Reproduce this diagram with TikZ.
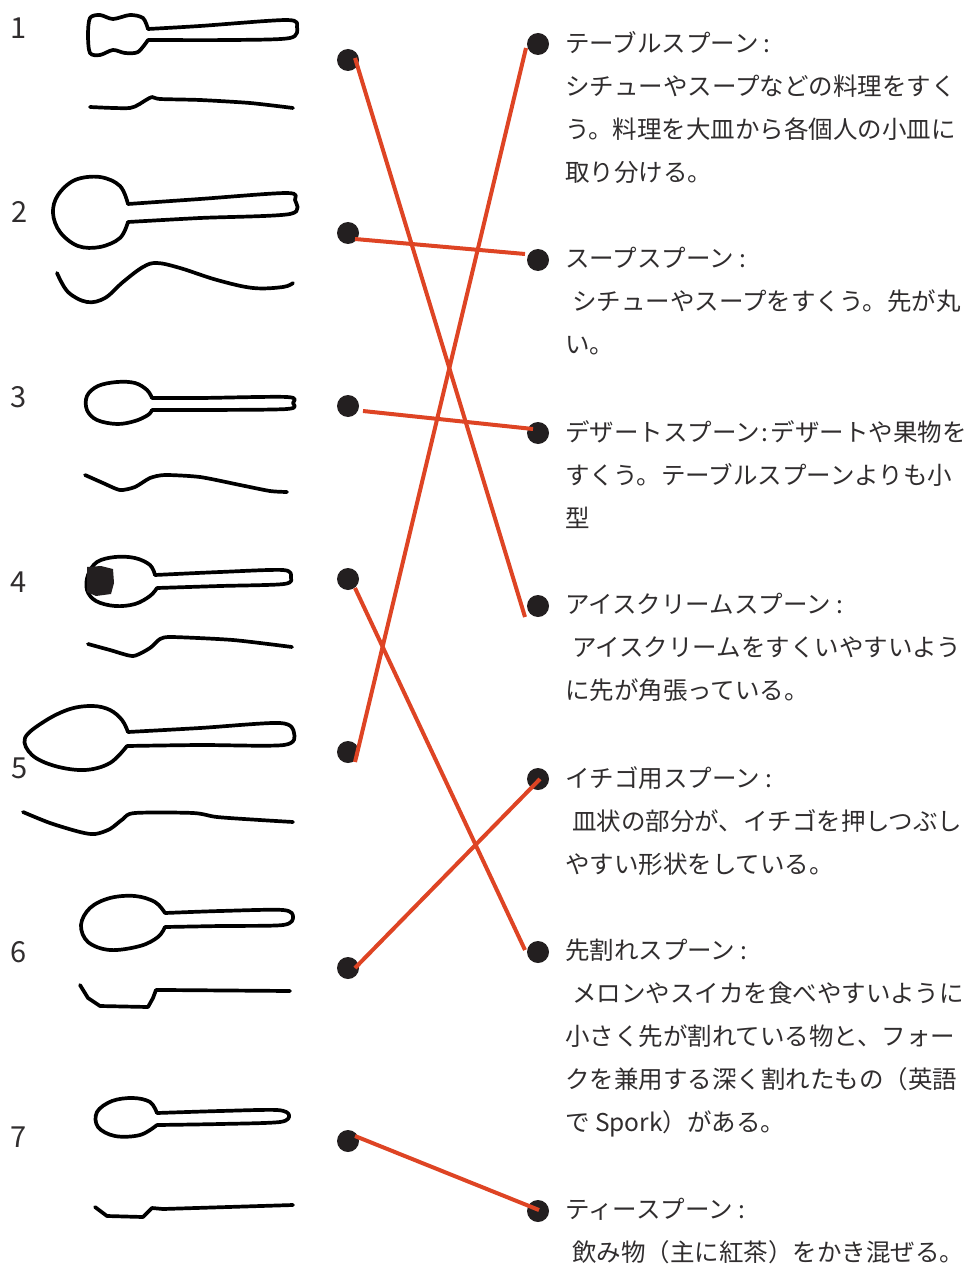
\documentclass[tikz,border=0pt]{standalone}
\usepackage{fontspec}
\setmainfont{Noto Sans CJK JP}
\usetikzlibrary{positioning}
\definecolor{linkred}{RGB}{222,68,36}
\definecolor{dotblack}{RGB}{35,31,32}
\definecolor{inkgray}{RGB}{48,45,46}
\tikzstyle{dot}=[circle,fill=dotblack,inner sep=0pt,minimum size=22pt]
\tikzstyle{link}=[draw=linkred,line width=4pt]
\tikzstyle{sketch}=[line width=3.7pt,line cap=round,line join=round]
\tikzstyle{num}=[text=inkgray,font=\fontsize{29}{30}\selectfont,inner sep=0pt]
\tikzstyle{desc}=[anchor=north west,align=left,inner sep=0pt,text=inkgray,
  font=\fontsize{24.5}{43}\selectfont,execute at begin node=\rule{0pt}{22pt}]
\newcommand\ind{\hspace*{7pt}}

\begin{document}
\begin{tikzpicture}[x=1pt,y=-1pt]
\useasboundingbox (0,0) rectangle (972,1265);

% numbers
\node[num] (n1) at (19,28) {1};
\node[num] (n2) at (20,212) {2};
\node[num] (n3) at (19,397) {3};
\node[num] (n4) at (19,582) {4};
\node[num] (n5) at (20,768) {5};
\node[num] (n6) at (19,952) {6};
\node[num] (n7) at (19,1137) {7};

% spoon sketches: top view, then side view
% 1
\draw[sketch] plot[smooth,tension=.5] coordinates {(148,29)(143,18)(130,15)(113,19)(100,15)(90,18)(88,35)(90,53)(100,55)(113,50)(125,53)(138,52)(148,40)};
\draw[sketch] plot[smooth,tension=.5] coordinates {(148,29)(200,26)(287,20)(297,27)(290,38)(233,40)(148,40)};
\draw[sketch] plot[smooth,tension=.4] coordinates {(90,107)(130,108)(146,100)(152,97)(160,99)(200,100)(250,103)(293,108)};
% 2
\draw[sketch] plot[smooth,tension=.6] coordinates {(128,204)(120,186)(100,177)(75,180)(58,195)(53,213)(60,232)(78,246)(100,247)(120,238)(128,222)};
\draw[sketch] plot[smooth,tension=.5] coordinates {(128,204)(200,199)(287,193)(295,200)(290,214)(200,218)(128,222)};
\draw[sketch] plot[smooth,tension=.6] coordinates {(57,273)(68,292)(87,302)(105,298)(123,282)(143,267)(157,263)(180,268)(217,280)(253,288)(283,287)(293,283)};
% 3
\draw[sketch] plot[smooth,tension=.6] coordinates {(152,398)(147,390)(135,383)(117,382)(98,386)(87,396)(87,410)(97,420)(117,424)(135,421)(148,415)(152,410)};
\draw[sketch] plot[smooth,tension=.5] coordinates {(152,398)(200,398)(287,397)(293,403)(287,409)(200,410)(152,410)};
\draw[sketch] plot[smooth,tension=.4] coordinates {(85,475)(103,483)(120,490)(135,487)(150,478)(165,475)(200,477)(240,485)(270,491)(287,492)};
% 4
\draw[sketch] plot[smooth,tension=.6] coordinates {(155,575)(150,565)(135,558)(115,557)(97,562)(88,575)(87,590)(96,601)(115,606)(135,604)(150,596)(157,588)};
\fill[dotblack] (87,567) -- (101,566) -- (113,569) -- (114,583) -- (111,594) -- (96,596) -- (87,592) -- cycle;
\draw[sketch] plot[smooth,tension=.5] coordinates {(155,575)(220,572)(283,570)(291,577)(284,584)(220,586)(157,588)};
\draw[sketch] plot[smooth,tension=.4] coordinates {(88,644)(110,650)(133,656)(150,648)(160,639)(172,637)(233,640)(292,647)};
% 5
\draw[sketch] plot[smooth,tension=.6] coordinates {(128,732)(122,720)(110,710)(93,706)(70,709)(45,721)(25,738)(32,755)(55,766)(85,770)(110,763)(127,746)};
\draw[sketch] plot[smooth,tension=.5] coordinates {(128,732)(200,728)(280,723)(294,733)(284,745)(200,745)(127,746)};
\draw[sketch] plot[smooth,tension=.5] coordinates {(23,812)(50,823)(80,832)(95,834)(110,829)(123,819)(135,813)(193,813)(217,817)(260,820)(293,822)};
% 6
\draw[sketch] plot[smooth,tension=.6] coordinates {(165,913)(155,902)(135,896)(110,898)(90,908)(81,925)(88,942)(110,950)(140,946)(158,937)(165,927)};
\draw[sketch] plot[smooth,tension=.5] coordinates {(165,913)(220,911)(283,910)(293,917)(283,925)(220,926)(165,927)};
\draw[sketch] (80,985) -- (88,998) -- (100,1006) -- (148,1007) -- (153,998) -- (156,990) -- (165,990) -- (290,991);
% 7
\draw[sketch] plot[smooth,tension=.6] coordinates {(157,1113)(150,1102)(133,1098)(112,1101)(97,1112)(98,1127)(115,1136)(140,1135)(157,1125)};
\draw[sketch] plot[smooth,tension=.5] coordinates {(157,1113)(220,1111)(277,1110)(289,1115)(280,1122)(220,1124)(157,1125)};
\draw[sketch] (95,1207) -- (107,1216) -- (143,1217) -- (152,1208) -- (163,1209) -- (293,1205);

% dots
\foreach \i/\y in {1/60,2/233,3/406,4/579,5/752,6/968,7/1141}
  \node[dot] (l\i) at (348,\y) {};
\foreach \i/\y in {1/44,2/260,3/433,4/606,5/779,6/952,7/1211}
  \node[dot] (r\i) at (538,\y) {};

% connectors
\draw[link] ([shift={(7,-2)}]l1.center) -- ([shift={(-13,11)}]r4.center);
\draw[link] ([shift={(7,6)}]l2.center) -- ([shift={(-13,-6)}]r2.center);
\draw[link] ([shift={(15,5)}]l3.center) -- ([shift={(-5,-4)}]r3.center);
\draw[link] ([shift={(7,9)}]l4.center) -- ([shift={(-13,-2)}]r6.center);
\draw[link] ([shift={(7,10)}]l5.center) -- ([shift={(-12,4)}]r1.center);
\draw[link] ([shift={(7,0)}]l6.center) -- ([shift={(2,0)}]r5.center);
\draw[link] ([shift={(7,-5)}]l7.center) -- ([shift={(1,-1)}]r7.center);

% descriptions
\node[desc] (t1) at ([shift={(27,-13)}]r1.center) {テーブルスプーン :\\シチューやスープなどの料理をすく\\う。料理を大皿から各個人の小皿に\\取り分ける。};
\node[desc] (t2) at ([shift={(27,-13)}]r2.center) {スープスプーン :\\\ind シチューやスープをすくう。先が丸\\い。};
\node[desc] (t3) at ([shift={(27,-13)}]r3.center) {デザートスプーン\hspace{2pt}:\hspace{2pt}デザートや果物を\\すくう。テーブルスプーンよりも小\\型};
\node[desc] (t4) at ([shift={(27,-13)}]r4.center) {アイスクリームスプーン :\\\ind アイスクリームをすくいやすいよう\\に先が角張っている。};
\node[desc] (t5) at ([shift={(27,-13)}]r5.center) {イチゴ用スプーン :\\\ind 皿状の部分が、イチゴを押しつぶし\\やすい形状をしている。};
\node[desc] (t6) at ([shift={(27,-13)}]r6.center) {先割れスプーン :\\\ind メロンやスイカを食べやすいように\\小さく先が割れている物と、フォー\\クを兼用する深く割れたもの（英語\\で Spork）がある。};
\node[desc] (t7) at ([shift={(27,-13)}]r7.center) {ティースプーン :\\\ind 飲み物（主に紅茶）をかき混ぜる。};
\end{tikzpicture}
\end{document}
